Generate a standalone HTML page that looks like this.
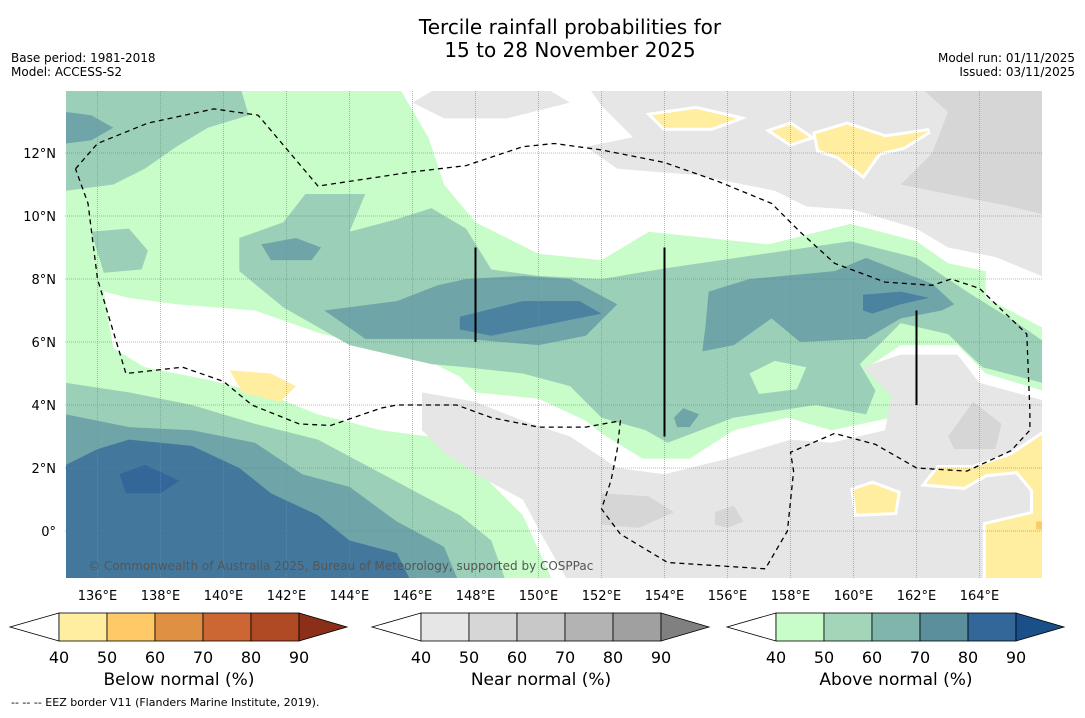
<!DOCTYPE html>
<html><head><meta charset="utf-8"><style>
body{margin:0;background:#fff;width:1085px;height:713px;overflow:hidden;font-family:"Liberation Sans",sans-serif}
svg text{font-family:"DejaVu Sans","Liberation Sans",sans-serif}
</style></head><body>
<svg id="s" width="1085" height="713" xmlns="http://www.w3.org/2000/svg">
<text x="570" y="34" font-size="20" text-anchor="middle">Tercile rainfall probabilities for</text>
<text x="570" y="57" font-size="20" text-anchor="middle">15 to 28 November 2025</text>
<text x="11" y="62" font-size="12">Base period: 1981-2018</text>
<text x="11" y="76" font-size="12">Model: ACCESS-S2</text>
<text x="1075" y="62" font-size="12" text-anchor="end">Model run: 01/11/2025</text>
<text x="1075" y="76" font-size="12" text-anchor="end">Issued: 03/11/2025</text>
<defs><clipPath id="mc"><rect x="65" y="91" width="977" height="487"/></clipPath></defs>
<g id="map" clip-path="url(#mc)"></g>
<g id="axes"></g>
<g id="cbars"></g>
<text x="11" y="706" font-size="11">--  --  -- EEZ border V11 (Flanders Marine Institute, 2019).</text>
</svg>
<script>
const lonTicks=[136,138,140,142,144,146,148,150,152,154,156,158,160,162,164];
const latTicks=[0,2,4,6,8,10,12];
const cbLevels=[40,50,60,70,80,90];
const belowColors=["#ffeda0","#fec966","#e09043","#cc6633","#b04a25"];
const nearColors=["#e6e6e6","#d6d6d6","#c8c8c8","#b3b3b3","#a0a0a0"];
const aboveColors=["#c8fcc8","#a3d6b8","#7fb5aa","#5b8f9c","#336699"];
const regions=[
 ["#c8fcc8",0,[[135,14.2],[166.2,14.2],[166.2,-1.7],[135,-1.7]]],
 ["#ffffff",0,[[145.5,14.2],[166.2,14.2],[166.2,6.35],[164.2,7.4],[164.2,8.25],[163,8.5],[162,9.2],[159.9,9.75],[157.3,9.1],[153.5,9.5],[152,8.6],[150,8.8],[148,9.8],[147,11],[146.5,12.5]]],
 ["#e6e6e6",0,[[151.5,14.2],[166.2,14.2],[166.2,8.0],[164.5,8.7],[163,9.0],[162,9.6],[160,10.2],[158.5,10.3],[157.5,10.8],[155,11.3],[152.5,11.5],[151.5,12.2],[153,12.5],[152,13.5]]],
 ["#e6e6e6",0,[[146,13.6],[147,14.2],[150,14.2],[151,13.6],[149,13.1],[147,13.1]]],
 ["#d6d6d6",0,[[162,14.2],[166.2,14.2],[166.2,10],[165,10.3],[163,10.7],[161.5,11],[162.5,12],[163,13.3]]],
 ["#ffeda0",1,[[153.6,13.2],[155,13.4],[156.3,13.1],[155.5,12.8],[154,12.8]]],
 ["#ffeda0",1,[[157.4,12.7],[158,12.9],[158.6,12.5],[158,12.3]]],
 ["#ffeda0",1,[[158.8,12.6],[159.8,12.9],[161,12.5],[162.4,12.7],[161.6,12.2],[160.8,12.0],[160.3,11.3],[159.5,11.9],[158.9,12.1]]],
 ["#ffffff",0,[[136.2,7.6],[137,7.4],[138.5,7.2],[141,7.0],[143,6.3],[144.5,5.9],[146.5,5.4],[147.5,4.9],[148,4.4],[150,4.2],[151.5,3.5],[152,3.1],[153.3,2.3],[154.8,2.3],[156.2,3.2],[157.9,3.6],[159.3,3.2],[161.2,3.6],[161.6,4.45],[160.6,5.3],[161.5,5.9],[163.3,5.9],[164.2,5],[166.2,4.4],[166.2,-1.7],[150.5,-1.7],[149.5,0.5],[148,2],[146.5,3],[145,3.2],[143,3.7],[141.5,4.3],[139.5,4.8],[137.5,5.2],[136.5,5.8]]],
 ["#e6e6e6",0,[[146.3,4.4],[148,4.1],[149.5,3.5],[151,3],[152.5,2],[154,1.8],[156,2.3],[158,2.9],[159.3,2.8],[161,3.2],[161.2,4.3],[160.3,5.2],[161.5,5.6],[163.3,5.6],[164,4.7],[166.2,4.1],[166.2,-1.7],[151,-1.7],[150.2,-0.3],[149.5,1],[148,1.8],[147,2.5],[146.3,3.2]]],
 ["#d6d6d6",0,[[163,3.0],[163.8,4.1],[164.7,3.4],[164.5,2.6],[163.2,2.6]]],
 ["#d6d6d6",0,[[152,1.2],[153.5,1.1],[154.3,0.6],[153.2,0.1],[152,0.2]]],
 ["#d6d6d6",0,[[155.6,0.6],[156.2,0.8],[156.5,0.3],[156,0.1],[155.6,0.2]]],
 ["#ffeda0",1,[[166.2,3.2],[165,2.4],[163.8,2.0],[162.7,2.0],[162.3,1.5],[163.5,1.4],[164.2,1.8],[165.2,1.9],[165.7,1.3],[165.7,0.55],[164.2,0.2],[164.2,-1.7],[166.2,-1.7]]],
 ["#fec966",0,[[165.8,0.3],[166.2,0.3],[166.2,0.05],[165.8,0.05]]],
 ["#ffeda0",1,[[160,1.3],[160.6,1.5],[161.4,1.2],[161.3,0.6],[160.1,0.55]]],
 ["#ffeda0",0,[[140.2,5.1],[141.5,5.0],[142.3,4.6],[141.8,4.1],[140.6,4.4]]],
 ["#9ccfb8",0,[[135,14.2],[140.5,14.2],[140.8,13.2],[139.5,12.8],[138.5,12.2],[137.5,11.5],[136.5,11],[135,10.8]]],
 ["#6fa5a8",0,[[135,13.3],[135.8,13.2],[136.5,12.8],[135.8,12.4],[135,12.3]]],
 ["#9ccfb8",0,[[135.8,9.5],[137,9.6],[137.6,8.9],[137.4,8.3],[136.2,8.2]]],
 ["#9ccfb8",0,[[140.5,9.3],[141.9,9.8],[142.6,10.7],[144.5,10.7],[144,9.5],[145.5,9.9],[146.6,10.25],[147.7,9.6],[148.5,8.3],[150,8.1],[152,8.0],[154.1,8.35],[156.2,8.66],[159.9,9.2],[162,8.67],[163.6,7.6],[165.2,6.6],[166.2,5.9],[166.2,4.65],[164.1,5.2],[163,6.25],[161.5,6.6],[160.2,5.3],[160.7,4.45],[160.4,3.7],[158.8,4.0],[156.2,3.6],[154.1,2.8],[153.4,3.2],[152,3.6],[151,4.6],[149.5,5.0],[147.7,5.2],[146.6,5.3],[144,5.9],[141.9,7.1],[140.5,8.25]]],
 ["#c8fcc8",0,[[156.7,5.0],[157.5,5.4],[158.5,5.2],[158.2,4.5],[157,4.35]]],
 ["#6fa5a8",0,[[141.2,9.1],[142.3,9.3],[143.1,9.0],[142.8,8.6],[141.5,8.6]]],
 ["#6fa5a8",0,[[143.2,7.0],[145.5,7.3],[146.8,7.8],[147.7,8.0],[149.5,8.1],[151,8.0],[152.5,7.2],[151.5,6.2],[150,5.9],[147.7,6.1],[144.5,6.1]]],
 ["#6fa5a8",0,[[155.3,6.5],[155.4,7.6],[156.7,8.0],[159.4,8.25],[160.4,8.67],[162.5,7.85],[163.2,7.2],[162.8,7.0],[161.5,6.75],[160.4,6.1],[158.3,6.0],[157.4,6.75],[156.2,5.9],[155.2,5.7]]],
 ["#6fa5a8",0,[[154.3,3.6],[154.6,3.9],[155.1,3.7],[154.8,3.3],[154.4,3.3]]],
 ["#4a82a0",0,[[147.5,6.8],[149.5,7.3],[151.3,7.3],[152,6.9],[150.5,6.6],[148.5,6.2],[147.5,6.4]]],
 ["#4a82a0",0,[[160.3,7.5],[161.5,7.6],[162.4,7.4],[161.5,7.2],[160.6,6.9],[160.3,7.0]]],
 ["#9ccfb8",0,[[135,4.7],[137,4.4],[139,4.0],[141,3.4],[143,2.9],[144.5,2.1],[146,1.3],[147.5,0.5],[148.5,-0.3],[149,-1.7],[135,-1.7]]],
 ["#6fa5a8",0,[[135,3.7],[137,3.3],[139,3.2],[141,2.8],[142.5,1.8],[144,1.4],[145.5,0.3],[147,-0.5],[147.5,-1.7],[135,-1.7]]],
 ["#43789c",0,[[135,2.1],[136,2.6],[137,2.9],[139,2.7],[140.5,2.0],[141.5,1.2],[143,0.5],[144,-0.3],[145.5,-0.7],[146,-1.7],[135,-1.7]]],
 ["#336699",0,[[136.7,1.8],[137.5,2.1],[138.6,1.6],[138,1.2],[136.9,1.2]]]
];
const eez=[[135.3,11.5],[136,12.3],[137.6,12.95],[139.7,13.4],[141.1,13.2],[143,10.95],[146,11.4],[147.7,11.6],[149.5,12.2],[150.5,12.3],[152,12.1],[154,11.7],[155.7,11.1],[157.4,10.4],[158.3,9.5],[159.4,8.5],[161,7.9],[162.5,7.8],[163.1,8.0],[164,7.7],[165.5,6.25],[165.6,3.8],[165.6,3.2],[165,2.55],[163.6,1.9],[162,2.0],[160.7,2.75],[159.4,3.1],[158,2.5],[158.1,1.9],[157.9,0],[157.2,-1.2],[154.1,-1.0],[152.6,-0.1],[152,0.7],[152.3,1.6],[152.5,2.6],[152.6,3.5],[151.5,3.3],[150,3.3],[148.5,3.6],[147.4,4.0],[145.5,4.0],[145,3.9],[143.4,3.35],[142.4,3.4],[140.9,4.0],[140,4.75],[138.7,5.2],[136.9,5.0],[136,8.0],[135.7,10.4],[135.3,11.5]];
const segLons=[148,154,162];
const segLat0=[6,3,4];
const segLat1=[9,9,7];
const NS="http://www.w3.org/2000/svg";
const X=lon=>66+(lon-135)*31.5, Y=lat=>531-lat*31.5;
function mk(tag,at,parent){const e=document.createElementNS(NS,tag);for(const k in at)e.setAttribute(k,at[k]);parent.appendChild(e);return e;}
const map=document.getElementById('map'),axes=document.getElementById('axes'),cb=document.getElementById('cbars');
regions.forEach(r=>{const at={d:'M'+r[2].map(q=>X(q[0]).toFixed(1)+','+Y(q[1]).toFixed(1)).join('L')+'Z',fill:r[0]};
if(r[1]){at.stroke='#fff';at['stroke-width']=6;at['paint-order']='stroke';}
const p=mk('path',at,map);

});
lonTicks.forEach(l=>{const g=mk('line',{x1:X(l),x2:X(l),y1:91,y2:578,stroke:'#888','stroke-width':0.6,'stroke-dasharray':'1,1'},map);


const t=mk('text',{x:X(l),y:600,'font-size':13,'text-anchor':'middle'},axes);t.textContent=l+'°E';

});
latTicks.forEach(l=>{const g=mk('line',{x1:65,x2:1042,y1:Y(l),y2:Y(l),stroke:'#777','stroke-width':0.6,'stroke-dasharray':'1,1'},map);


const t=mk('text',{x:56,y:Y(l)+5,'font-size':13,'text-anchor':'end'},axes);t.textContent=l===0?'0°':l+'°N';

});
const ez=mk('path',{d:'M'+eez.map(q=>X(q[0]).toFixed(1)+','+Y(q[1]).toFixed(1)).join('L'),fill:'none',stroke:'#000','stroke-width':1.3,'stroke-dasharray':'5,4'},map);


segLons.forEach((l,i)=>{const s=mk('line',{x1:X(l),x2:X(l),y1:Y(segLat0[i]),y2:Y(segLat1[i]),stroke:'#000','stroke-width':2},map);

});
const cp=mk('text',{x:88,y:570,'font-size':12,fill:'#555'},map);cp.textContent='© Commonwealth of Australia 2025, Bureau of Meteorology, supported by COSPPac';


function bar(x0,colors,endCol,label,name){
 const seg=48,y0=613,h=28;const g=mk('g',{},cb);
 
 
 mk('path',{d:`M${x0+49},${y0}L${x0},${y0+h/2}L${x0+49},${y0+h}Z`,fill:'#fff',stroke:'#000','stroke-width':0.8},g);
 colors.forEach((c,i)=>mk('rect',{x:x0+49+i*seg,y:y0,width:seg,height:h,fill:c,stroke:'#000','stroke-width':0.8},g));
 const xe=x0+49+colors.length*seg;
 mk('path',{d:`M${xe},${y0}L${xe+48},${y0+h/2}L${xe},${y0+h}Z`,fill:endCol,stroke:'#000','stroke-width':0.8},g);
 cbLevels.forEach((v,i)=>{const t=mk('text',{x:x0+49+i*seg,y:663,'font-size':16,'text-anchor':'middle'},g);t.textContent=v;});
 const t=mk('text',{x:x0+49+2.5*seg,y:685,'font-size':17,'text-anchor':'middle'},g);t.textContent=label;
}
bar(10,belowColors,'#8b2f1a','Below normal (%)','below-normal-colorbar');
bar(372,nearColors,'#808080','Near normal (%)','near-normal-colorbar');
bar(727,aboveColors,'#1a4f8a','Above normal (%)','above-normal-colorbar');
</script>
</body></html>
